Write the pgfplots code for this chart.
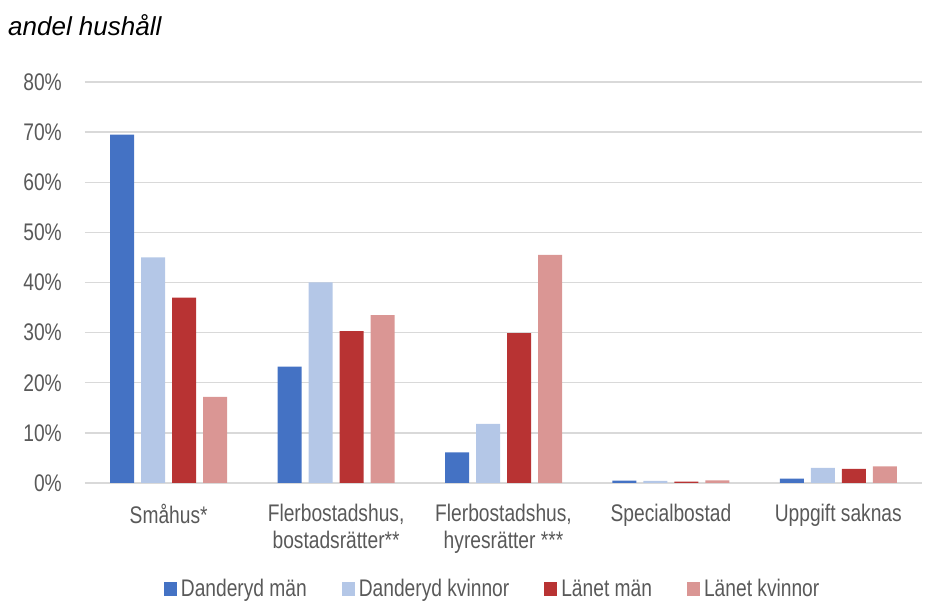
\documentclass[border=0pt]{standalone}
\usepackage{pgfplots}
\pgfplotsset{compat=1.18}
\usepackage{fontspec}
\setmainfont{Liberation Sans}
\newfontfamily\narrowf{Liberation Sans}[FakeStretch=0.8]
\definecolor{c1}{HTML}{4472C4}
\definecolor{c2}{HTML}{B4C7E7}
\definecolor{c3}{HTML}{B83333}
\definecolor{c4}{HTML}{DA9694}
\definecolor{txt}{HTML}{595959}
\definecolor{gridc}{HTML}{D9D9D9}
\begin{document}
\begin{tikzpicture}
\useasboundingbox (-85pt,-118pt) rectangle (841pt,483pt);
\begin{axis}[
  at={(0pt,0pt)}, anchor=south west, scale only axis,
  width=837pt, height=401pt,
  ybar=7pt, bar width=24pt,
  xmin=-0.5, xmax=4.5, ymin=0, ymax=80,
  xtick={0,1,2,3,4},
  xticklabels={Småhus*, {Flerbostadshus,\\bostadsrätter**}, {Flerbostadshus,\\hyresrätter ***}, Specialbostad, Uppgift saknas},
  ytick={0,10,...,80},
  yticklabels={0\%,10\%,20\%,30\%,40\%,50\%,60\%,70\%,80\%},
  axis line style={draw=none},
  major tick length=0pt,
  ymajorgrids, grid style={gridc, line width=1.5pt},
  tick label style={font=\narrowf\fontsize{24}{27}\selectfont, text=txt},
  yticklabel style={inner sep=0pt, xshift=-23pt},
  xticklabel style={align=center, anchor=north, inner sep=0pt, yshift=-21pt},
  legend style={at={(0.487,-0.264)}, anchor=center, draw=none, fill=none,
    legend columns=4, font=\narrowf\fontsize{24}{27}\selectfont, text=txt,
    /tikz/every even column/.append style={column sep=33pt}},
  legend image code/.code={\fill[#1] (0pt,-7pt) rectangle (13pt,7pt); \path (15pt,0pt);},
]
\addplot[fill=c1, draw=none] coordinates {(0,69.5) (1,23.2) (2,6.1) (3,0.46) (4,0.86)};
\addplot[fill=c2, draw=none] coordinates {(0,45.0) (1,40.0) (2,11.8) (3,0.4) (4,3.0)};
\addplot[fill=c3, draw=none] coordinates {(0,37.0) (1,30.3) (2,29.9) (3,0.25) (4,2.8)};
\addplot[fill=c4, draw=none] coordinates {(0,17.2) (1,33.5) (2,45.5) (3,0.5) (4,3.3)};
\legend{Danderyd män, Danderyd kvinnor, Länet män, Länet kvinnor}
\end{axis}
\node[anchor=base west, font=\itshape\fontsize{26}{30}\selectfont, inner sep=0pt] at (-77pt,447pt) {andel hushåll};
\end{tikzpicture}
\end{document}
